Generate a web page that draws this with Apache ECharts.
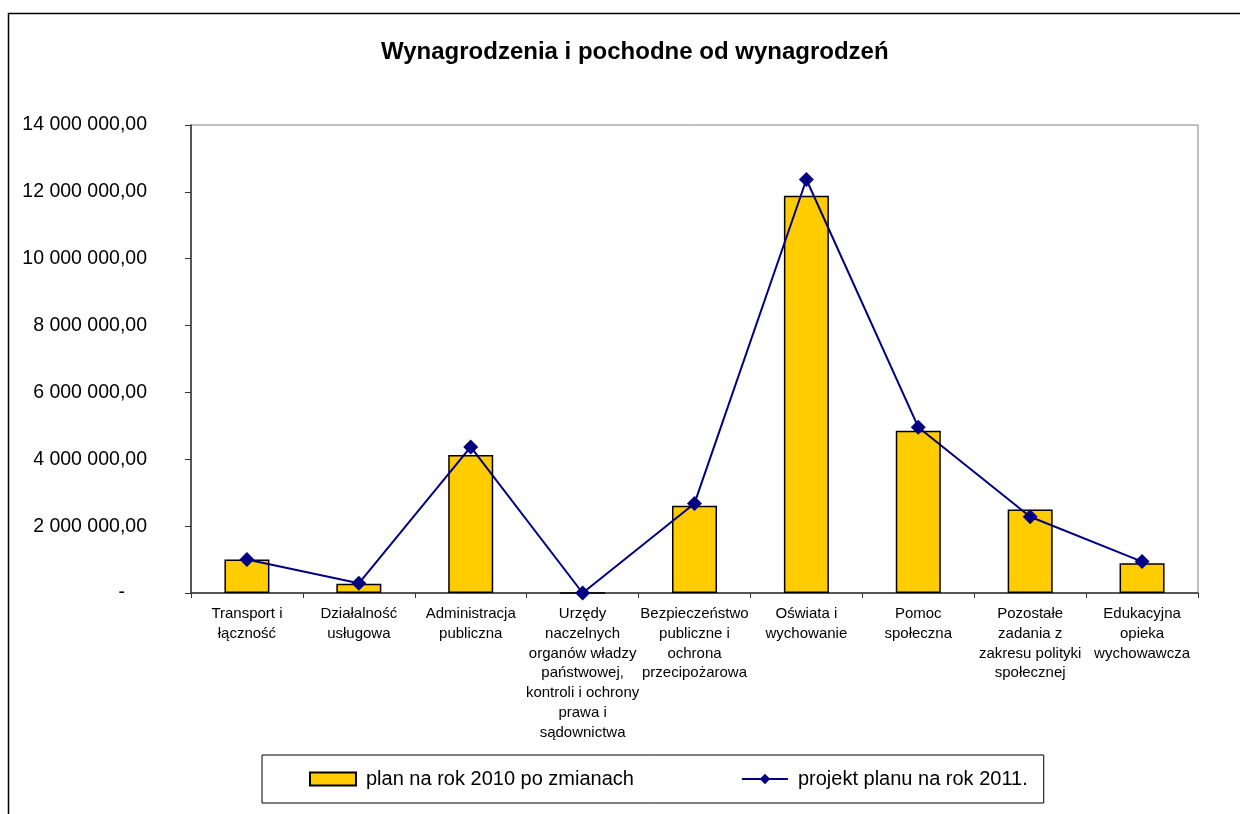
<!DOCTYPE html>
<html>
<head>
<meta charset="utf-8">
<script src="https://cdn.jsdelivr.net/npm/echarts@6/dist/echarts.min.js"></script>
<style>
  html, body { margin: 0; padding: 0; background: #fff; }
  #chart { width: 1240px; height: 814px; }
</style>
</head>
<body>
<div id="chart"></div>
<script>
var categories = [
    'Transport i\nłączność',
    'Działalność\nusługowa',
    'Administracja\npubliczna',
    'Urzędy\nnaczelnych\norganów władzy\npaństwowej,\nkontroli i ochrony\nprawa i\nsądownictwa',
    'Bezpieczeństwo\npubliczne i\nochrona\nprzecipożarowa',
    'Oświata i\nwychowanie',
    'Pomoc\nspołeczna',
    'Pozostałe\nzadania z\nzakresu polityki\nspołecznej',
    'Edukacyjna\nopieka\nwychowawcza'
];
var plan2010 = [1000000, 280000, 4130000, 0, 2610000, 11880000, 4850000, 2500000, 890000];
var projekt2011 = [1000000, 290000, 4370000, 0, 2680000, 12370000, 4960000, 2280000, 940000];

var seriesNames = ['plan na rok 2010 po zmianach', 'projekt planu na rok 2011.'];

// 14 000 000,00
function fmt(v) {
    if (v === 0) return '{dash|-}';
    var s = Math.round(v).toString().replace(/\B(?=(\d{3})+(?!\d))/g, ' ');
    return s + ',00';
}

window.onload = function () {
    var chart = echarts.init(document.getElementById('chart'));
    var font = 'Liberation Sans, Arial, sans-serif';
    var option = {
        backgroundColor: '#ffffff',
        animation: false,
        textStyle: { fontFamily: font },
        title: {
            text: 'Wynagrodzenia i pochodne od wynagrodzeń',
            left: 376,
            top: 35,
            textStyle: { fontSize: 24, fontWeight: 'bold', color: '#000', fontFamily: font }
        },
        graphic: [{
            type: 'rect',
            shape: { x: 8.5, y: 13.5, width: 1240, height: 820 },
            style: { fill: null, stroke: '#000', lineWidth: 1.5 },
            silent: true
        }],
        legend: {
            left: 262,
            top: 755,
            padding: [14, 16, 14, 47],
            itemGap: 107,
            itemWidth: 46,
            itemHeight: 13,
            borderColor: '#000',
            borderWidth: 1,
            textStyle: { fontSize: 20, color: '#000', fontFamily: font, padding: [0, 0, 0, 5] },
            data: [{ name: seriesNames[0], icon: 'rect' }, { name: seriesNames[1] }]
        },
        grid: {
            left: 191,
            right: 42,
            top: 125,
            bottom: 221,
            show: true,
            borderColor: '#808080',
            borderWidth: 1
        },
        xAxis: {
            type: 'category',
            data: categories,
            boundaryGap: true,
            axisLine: { lineStyle: { color: '#333', width: 1.5 } },
            axisTick: { show: true, length: 5, inside: false, lineStyle: { color: '#333' } },
            axisLabel: {
                interval: 0,
                margin: 11,
                fontSize: 15,
                lineHeight: 19.8,
                color: '#000',
                align: 'center',
                verticalAlign: 'top'
            }
        },
        yAxis: {
            type: 'value',
            min: 0,
            max: 14000000,
            interval: 2000000,
            axisLine: { show: true, lineStyle: { color: '#333', width: 1.5 } },
            axisTick: { show: true, length: 6, lineStyle: { color: '#333' } },
            splitLine: { show: false },
            axisLabel: {
                margin: 44,
                fontSize: 19.5,
                color: '#000',
                formatter: fmt,
                rich: {
                    dash: { fontSize: 19.5, color: '#000', padding: [0, 22, 0, 0] }
                }
            }
        },
        series: [{
            name: seriesNames[0],
            type: 'bar',
            data: plan2010,
            barWidth: 45,
            itemStyle: { color: '#FFCC00', borderColor: '#000', borderWidth: 1.5 },
            z: 2
        }, {
            name: seriesNames[1],
            type: 'line',
            data: projekt2011,
            symbol: 'diamond',
            symbolSize: 15,
            lineStyle: { color: '#000080', width: 2 },
            itemStyle: { color: '#000080' },
            z: 3
        }]
    };
    chart.setOption(option);
};
</script>
</body>
</html>
